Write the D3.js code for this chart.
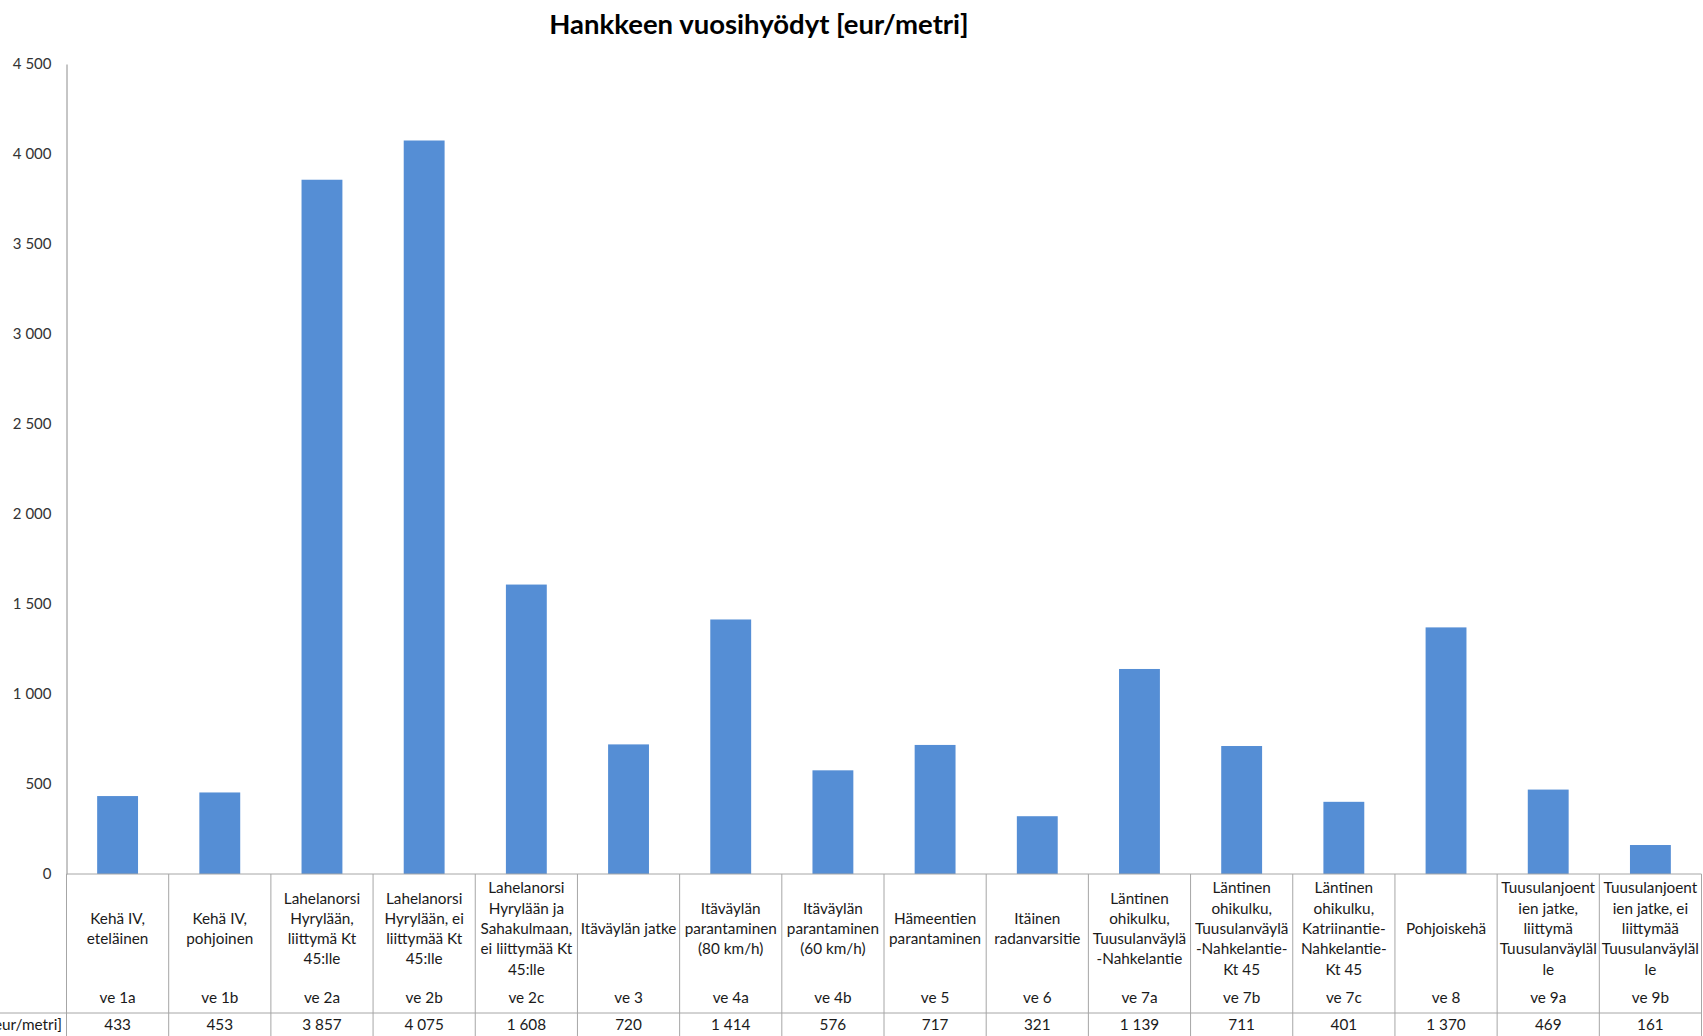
<!DOCTYPE html>
<html>
<head>
<meta charset="utf-8">
<script src="https://cdn.jsdelivr.net/npm/d3@7"></script>
<style>
  html, body { margin: 0; padding: 0; background: #fff; }
  svg { display: block; }
  text { font-family: Lato, "Open Sans", "DejaVu Sans", sans-serif; }
</style>
</head>
<body>
<svg id="chart" width="1703" height="1036"></svg>
<script>
// Alternatives (lower level of the category axis)
const codes = ["ve 1a", "ve 1b", "ve 2a", "ve 2b", "ve 2c", "ve 3", "ve 4a", "ve 4b",
  "ve 5", "ve 6", "ve 7a", "ve 7b", "ve 7c", "ve 8", "ve 9a", "ve 9b"];

// Project descriptions, already wrapped into lines
const descriptions = [
  ["Kehä IV,", "eteläinen"],
  ["Kehä IV,", "pohjoinen"],
  ["Lahelanorsi", "Hyrylään,", "liittymä Kt", "45:lle"],
  ["Lahelanorsi", "Hyrylään, ei", "liittymää Kt", "45:lle"],
  ["Lahelanorsi", "Hyrylään ja", "Sahakulmaan,", "ei liittymää Kt", "45:lle"],
  ["Itäväylän jatke"],
  ["Itäväylän", "parantaminen", "(80 km/h)"],
  ["Itäväylän", "parantaminen", "(60 km/h)"],
  ["Hämeentien", "parantaminen"],
  ["Itäinen", "radanvarsitie"],
  ["Läntinen", "ohikulku,", "Tuusulanväylä", "-Nahkelantie"],
  ["Läntinen", "ohikulku,", "Tuusulanväylä", "-Nahkelantie-", "Kt 45"],
  ["Läntinen", "ohikulku,", "Katriinantie-", "Nahkelantie-", "Kt 45"],
  ["Pohjoiskehä"],
  ["Tuusulanjoent", "ien jatke,", "liittymä", "Tuusulanväyläl", "le"],
  ["Tuusulanjoent", "ien jatke, ei", "liittymää", "Tuusulanväyläl", "le"]
];

// Annual benefits, eur per metre
const benefits = [433, 453, 3857, 4075, 1608, 720, 1414, 576, 717, 321, 1139, 711, 401, 1370, 469, 161];

const yTicks = [0, 500, 1000, 1500, 2000, 2500, 3000, 3500, 4000, 4500];
const seriesName = "Hankkeen vuosihyödyt [eur/metri]";
const title = "Hankkeen vuosihyödyt [eur/metri]";

const fi = d3.formatLocale({ decimal: ",", thousands: "\u00a0", grouping: [3], currency: ["", " €"] });
const fmt = fi.format(",d");

const svg = d3.select("#chart");
const W = 1703, H = 1036;
const plotLeft = 66.5, plotRight = 1701.5, plotTop = 64, plotBottom = 874;
const rowLineY = 1013;
const lineStep = 20.3;
const descCenterY = 928.6, codeY = 998, valueY = 1025;

const x = d3.scaleBand()
  .domain(codes)
  .range([plotLeft, plotRight])
  .paddingInner(0.6)
  .paddingOuter(0.3);

const xCol = d3.scaleBand().domain(codes).range([plotLeft, plotRight]).padding(0);

const y = d3.scaleLinear().domain([0, 4500]).range([plotBottom, plotTop]);

// Title
svg.append("text")
  .attr("x", 759).attr("y", 34)
  .attr("text-anchor", "middle")
  .attr("font-size", 27.5).attr("font-weight", "bold")
  .attr("fill", "#000")
  .text(title);

// Y axis
const yAxis = d3.axisLeft(y).tickValues(yTicks).tickFormat(fmt).tickSize(0).tickPadding(15);
const gy = svg.append("g").attr("transform", `translate(${plotLeft},0)`).call(yAxis);
gy.select(".domain").attr("stroke", "#8c8c8c").attr("stroke-width", 1);
gy.selectAll("text").attr("font-size", 15).attr("fill", "#333")
  .style("font-family", "Lato, 'Open Sans', sans-serif");

// Bars
svg.append("g").selectAll("rect")
  .data(benefits)
  .join("rect")
  .attr("x", (d, i) => x(codes[i]))
  .attr("width", x.bandwidth())
  .attr("y", d => y(d))
  .attr("height", d => y(0) - y(d))
  .attr("fill", "#558ed5");

// Data table
const table = svg.append("g").attr("stroke", "#a6a6a6").attr("stroke-width", 1).attr("fill", "none");
table.append("line").attr("x1", plotLeft).attr("x2", plotRight).attr("y1", plotBottom).attr("y2", plotBottom);
table.append("line").attr("x1", 0).attr("x2", plotRight).attr("y1", rowLineY).attr("y2", rowLineY);
table.append("line").attr("x1", plotLeft).attr("x2", plotLeft).attr("y1", plotBottom).attr("y2", H);
table.selectAll("line.col")
  .data(codes)
  .join("line")
  .attr("class", "col")
  .attr("x1", d => xCol(d) + xCol.bandwidth())
  .attr("x2", d => xCol(d) + xCol.bandwidth())
  .attr("y1", plotBottom).attr("y2", H);

const labels = svg.append("g").attr("font-size", 15.3).attr("fill", "#1a1a1a").attr("text-anchor", "middle");

codes.forEach((c, i) => {
  const cx = xCol(c) + xCol.bandwidth() / 2;
  const lines = descriptions[i];
  const t = labels.append("text");
  lines.forEach((ln, j) => {
    t.append("tspan")
      .attr("x", cx)
      .attr("y", descCenterY + (j - (lines.length - 1) / 2) * lineStep)
      .attr("dy", "0.35em")
      .text(ln);
  });
  labels.append("text").attr("x", cx).attr("y", codeY).attr("dy", "0.35em").text(c);
  labels.append("text").attr("x", cx).attr("y", valueY).attr("dy", "0.35em").text(fmt(benefits[i]));
});

// Row header of the data table (runs past the left edge)
svg.append("text")
  .attr("x", 62).attr("y", valueY).attr("dy", "0.35em")
  .attr("text-anchor", "end")
  .attr("font-size", 15.3).attr("fill", "#1a1a1a")
  .text(seriesName);
</script>
</body>
</html>
